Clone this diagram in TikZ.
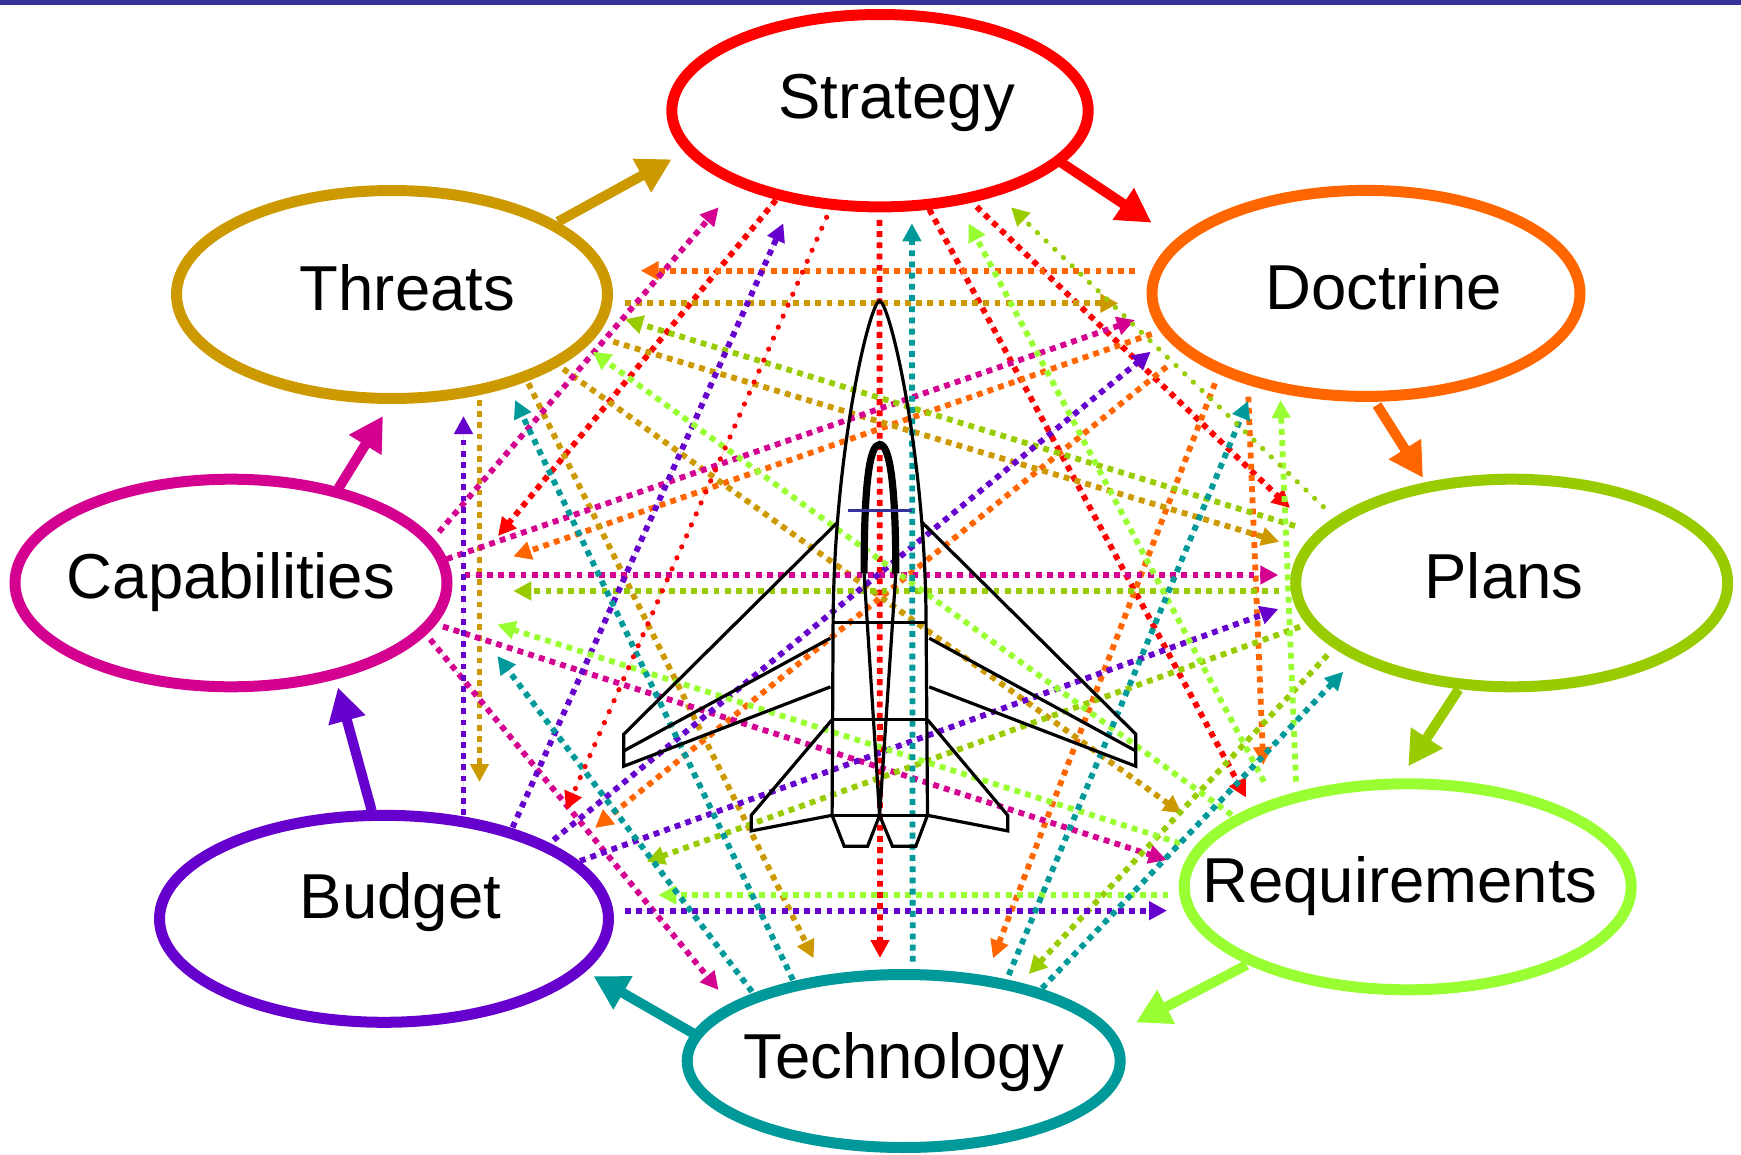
\documentclass[tikz,border=0pt]{standalone}
\usepackage{fontspec}
\setmainfont{Liberation Sans}
\usetikzlibrary{shapes.geometric,arrows.meta}
\definecolor{cRed}{HTML}{FF0000}
\definecolor{cOrange}{HTML}{FF6600}
\definecolor{cGold}{HTML}{CC9900}
\definecolor{cMag}{HTML}{D4008F}
\definecolor{cYG}{HTML}{99CC00}
\definecolor{cPur}{HTML}{6600CC}
\definecolor{cLG}{HTML}{99FF33}
\definecolor{cTeal}{HTML}{009999}
\definecolor{cBar}{HTML}{333399}
\tikzset{
  dotarr/.style={line width=2.9pt, dash pattern=on 2.9pt off 2.7pt, -{Triangle[length=9pt,width=9pt]}},
  rdotarr/.style={line width=2.6pt, line cap=round, dash pattern=on 0pt off 6pt, -{Triangle[length=9pt,width=9pt]}},
  ringarr/.style={line width=5pt, -{Triangle[length=17pt,width=18pt]}},
  oval/.style={ellipse, draw, fill=white, line width=5.5pt, inner sep=0pt},
  lbl/.style={font=\fontsize{31.75pt}{38pt}\selectfont, anchor=base, inner sep=0pt},
  plane/.style={line width=1.6pt, line join=miter, draw=black},
}
\begin{document}
\begin{tikzpicture}[x=0.5pt,y=-0.5pt]
\useasboundingbox (0,0) rectangle (1741,1155);
\fill[white] (0,0) rectangle (1741,1155);

% dotted arrows (square dots)
\foreach \c/\sx/\sy/\ex/\ey [count=\i] in {
  cRed/776/200/498/536,
  cRed/879.5/220/880/958,
  cRed/929.3/209.3/1246/797.5,
  cRed/976.6/206.7/1290/508,
  cOrange/1135/270.7/640.7/270.7,
  cOrange/1151.7/334/513.3/556.5,
  cOrange/1166.7/366.7/595/828,
  cOrange/1215/383.3/993/958.3,
  cOrange/1248.3/396.7/1263.3/765,
  cGold/625/303.3/1118.3/303.3,
  cGold/613.3/341.7/1279.3/541.7,
  cGold/563.3/369/1181.7/813.3,
  cGold/528.3/383.3/813.6/958.3,
  cGold/479.5/400/479.5/782,
  cMag/439/532/718.6/207.3,
  cMag/447/559/1135/320,
  cMag/464.6/575/1278.3/575,
  cMag/443/626.5/1166.7/860,
  cMag/430.2/639.4/718.5/990,
  cYG/1295/526/625/319.3,
  cYG/1279.3/591/513.3/591,
  cYG/1300/626.7/646.7/861.7,
  cYG/1327.5/655/1028.8/974,
  cPur/463.5/815/463.5/416,
  cPur/512.5/827.5/783.3/223.3,
  cPur/553.5/840/1150.7/351.7,
  cPur/580/861/1278.3/609,
  cPur/625/910.7/1167/910.7,
  cLG/1168.3/895/658.3/895,
  cLG/1180/843.3/497.4/624.6,
  cLG/1231.7/815/592.7/351.7,
  cLG/1264/781.7/968.6/223.3,
  cLG/1296/781.7/1280.5/400,
  cTeal/912.7/961.7/911.9/223.3,
  cTeal/752/991.7/497.4/656,
  cTeal/793/980/515/400,
  cTeal/1008.7/975/1248/401,
  cTeal/1042/988.3/1343.3/671.7}{
  \coordinate (ds\i) at (\sx,\sy);
  \coordinate (de\i) at (\ex,\ey);
  \draw[dotarr, draw=\c, fill=\c] (ds\i) -- (de\i);
}
% dotted arrows (round dots)
\foreach \c/\sx/\sy/\ex/\ey [count=\i] in {
  cRed/826.6/217.3/566/810,
  cYG/1323.3/506.7/1011/207.3}{
  \coordinate (rs\i) at (\sx,\sy);
  \coordinate (re\i) at (\ex,\ey);
  \draw[rdotarr, draw=\c, fill=\c] (rs\i) -- (re\i);
}

% ring arrows
\foreach \c/\sx/\sy/\ex/\ey [count=\i] in {
  cGold/557.9/221.7/671.7/159.3,
  cRed/1060/161.7/1151.6/222.7,
  cOrange/1377/405/1423/477.8,
  cYG/1458.6/689.4/1408.3/766.3,
  cLG/1246.7/965/1136/1022.5,
  cTeal/696/1035/593.5/976,
  cPur/371.7/810.7/338/687.5,
  cMag/338.5/488.3/383/416}{
  \coordinate (as\i) at (\sx,\sy);
  \coordinate (ae\i) at (\ex,\ey);
  \draw[ringarr, draw=\c, fill=\c] (as\i) -- (ae\i);
}

% ellipses
\node[oval, draw=cRed,    minimum width=208.2pt, minimum height=96.2pt] (strat)  at (880,110.7) {};
\node[oval, draw=cGold,   minimum width=215.5pt, minimum height=104pt]  (threat) at (392,294.5) {};
\node[oval, draw=cOrange, minimum width=214pt,   minimum height=103pt]  (doct)   at (1366,293.4) {};
\node[oval, draw=cMag,    minimum width=216pt,   minimum height=103.8pt] (capab) at (231,583) {};
\node[oval, draw=cYG,     minimum width=216pt,   minimum height=103.8pt] (plans) at (1511.7,583) {};
\node[oval, draw=cPur,    minimum width=224.5pt, minimum height=103.5pt] (budget) at (384,918.8) {};
\node[oval, draw=cLG,     minimum width=223.5pt, minimum height=103pt]  (reqs)   at (1407.7,886.8) {};
\node[oval, draw=cTeal,   minimum width=216.5pt, minimum height=86.5pt] (tech)   at (903.7,1061) {};

% labels
\node[lbl] (strat-t)  at (896.6,119)   {Strategy};
\node[lbl] (threat-t) at (407.5,311)   {Threats};
\node[lbl] (doct-t)   at (1383.5,310)  {Doctrine};
\node[lbl] (capab-t)  at (231,598.7)   {Capabilities};
\node[lbl] (plans-t)  at (1504,598.7)  {Plans};
\node[lbl] (budget-t) at (400.4,918.7) {Budget};
\node[lbl] (reqs-t)   at (1400,902)    {Requirements};
\node[lbl] (tech-t)   at (904,1078.3)  {Technology};

% airplane
\draw[plane] (832.1,815.3) -- (833.1,622.6) .. controls (834,450) and (870,301) .. (879.6,301)
  .. controls (889.2,301) and (925.2,450) .. (926.1,622.6) -- (927.5,815.3);
\draw[plane] (833.1,622.6) -- (926.1,622.6);
\draw[plane] (832.1,719.7) -- (927.5,719.7);
\draw[plane] (832.1,815.3) -- (927.5,815.3);
\draw[plane] (832.1,815.3) -- (844.2,846.2) -- (867.6,846.2) -- (879.6,815.3) -- (892.4,846.2) -- (915.8,846.2) -- (927.5,815.3);
\draw[plane] (864.1,573.5) -- (879.6,815.3) -- (895.8,573.5);
\draw[line width=3.6pt] (864.1,573.5) .. controls (864.1,480) and (870,444.5) .. (879.6,444.5)
  .. controls (889.2,444.5) and (895.8,480) .. (895.8,573.5);
\draw[line width=1.3pt, draw=cBar] (848.3,510.6) -- (911.6,510.6);
% wings
\draw[plane] (837.3,522.6) -- (623.8,734.2) -- (623.8,766.2) -- (830.4,686.9);
\draw[plane] (623.8,750.9) -- (830.4,638.2);
\draw[plane] (922.3,522.6) -- (1135.8,734.2) -- (1135.8,766.2) -- (929.2,686.9);
\draw[plane] (1135.8,750.9) -- (929.2,638.2);
% tail fins
\draw[plane] (832.1,719.7) -- (751.2,815.3) -- (751.2,830.9) -- (832.1,815.3);
\draw[plane] (927.5,719.7) -- (1007.7,815.3) -- (1007.7,830.9) -- (927.5,815.3);

% top bar
\fill[cBar] (0,0) rectangle (1741,4.7);
\end{tikzpicture}
\end{document}
